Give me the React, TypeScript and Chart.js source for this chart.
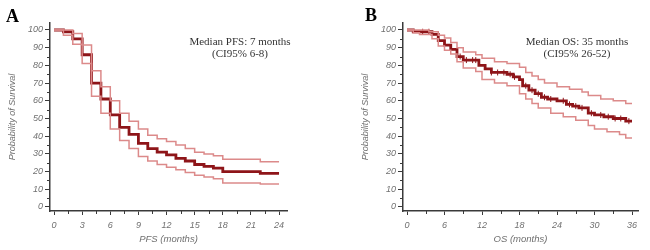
import React, { useEffect, useRef } from "react";
import { Chart, registerables } from "chart.js";

Chart.register(...registerables);

// ---------- Panel A: PFS ----------
const pfsTimes = [0, 1, 2, 3, 4, 5, 6, 7, 8, 9, 10, 11, 12, 13, 14, 15, 16, 17, 18, 22, 24];
const pfsMedian = [100, 99, 95, 86, 70, 61, 52, 45, 41, 36, 33, 31, 29.5, 27.5, 26, 24, 23, 22, 20, 19, 19];
const pfsUpper = [100, 100, 98, 91.5, 77, 68, 60, 53, 48.5, 44, 40.5, 38.5, 37, 35, 33, 31, 30, 29, 27, 25.5, 25.5];
const pfsLower = [100, 97, 92, 81, 62.5, 53, 44, 37.5, 33, 28.5, 26, 24, 22.5, 21, 19.5, 18, 17, 16, 13.5, 13, 13];
const pfsXTicks = [0, 3, 6, 9, 12, 15, 18, 21, 24];
const pfsXMinor = [1.5, 4.5, 7.5, 10.5, 13.5, 16.5, 19.5, 22.5];

// ---------- Panel B: OS ----------
const osMedTimes = [0, 1, 4, 5, 6, 7, 8, 9, 11.5, 12.5, 13.5, 16, 17, 18, 18.5, 19.5, 20.5, 21.5, 22.5, 24, 25.5, 26.5, 27.5, 29, 30, 31.5, 33, 35, 36];
const osMedian = [100, 99, 97.5, 94, 91.5, 89, 85, 83, 80, 78, 76, 75, 73.5, 72, 68.5, 66, 64, 62, 61, 60, 58, 57, 56, 53, 52, 51, 50, 48.5, 48.5];
const osUpperTimes = [0, 3.5, 5, 6, 7, 8, 9, 11, 12, 14, 16, 18, 19, 20, 21, 22, 24, 26, 28, 29, 31, 33, 35, 36];
const osUpper = [100, 99, 97, 95.5, 93, 90, 87.5, 86, 84, 82, 81, 79, 76, 74, 72, 70, 68, 66.5, 65, 63, 61, 60, 58.5, 58.5];
const osLowerTimes = [0, 1, 2, 4, 5, 6, 7, 8, 9, 11, 12, 14, 16, 18, 19, 20, 21, 23, 25, 27, 29, 30, 32, 34, 35, 36];
const osLower = [100, 98.5, 97.5, 95, 91, 88.5, 86.5, 82, 78.5, 76.5, 72, 70, 68.5, 64, 61, 58.5, 56, 53, 51, 49, 46, 44, 42.5, 41, 39, 39];
const osCensorTimes = [2.5, 3.5, 8.5, 9.5, 10.5, 11, 13.5, 14.5, 15.5, 16.5, 17.2, 19, 20, 21, 22, 23, 25, 26, 27, 28, 29.5, 31, 32.2, 33.3, 34.2, 35.5];
const osXTicks = [0, 6, 12, 18, 24, 30, 36];
const osXMinor = [3, 9, 15, 21, 27, 33];

const yTicks = [0, 10, 20, 30, 40, 50, 60, 70, 80, 90, 100];
const yMinor = [5, 15, 25, 35, 45, 55, 65, 75, 85, 95];

const MEDIAN_COLOR = "#8e1519";
const CI_COLOR = "#dc8a8a";
const AXIS_COLOR = "#3a3a3a";
const LABEL_COLOR = "#707070";
const SANS = "'Liberation Sans', Arial, sans-serif";
const SERIF = "'Liberation Serif', 'Times New Roman', serif";

const zip = (xs: number[], ys: number[]) => xs.map((x, i) => ({ x, y: ys[i] }));
const stepAt = (xs: number[], ys: number[], t: number) => {
  let v = ys[0];
  for (let i = 0; i < xs.length; i++) if (xs[i] <= t) v = ys[i];
  return v;
};

type PanelProps = {
  letter: string;
  letterX: number;
  letterY: number;
  lines: string[];
  textX: number;
  textY: number[];
  xTitle: string;
  xMin: number;
  xMax: number;
  xTicks: number[];
  xMinor: number[];
  median: { x: number; y: number }[];
  upper: { x: number; y: number }[];
  lower: { x: number; y: number }[];
  censor: { x: number; y: number }[];
  padLeft: number;
  padRight: number;
};

function Panel(p: PanelProps) {
  const ref = useRef<HTMLCanvasElement>(null);
  useEffect(() => {
    if (!ref.current) return;
    const decor = {
      id: "decor",
      afterDraw(chart: any) {
        const ctx = chart.ctx;
        const xs = chart.scales.x;
        const ys = chart.scales.y;
        ctx.save();
        ctx.strokeStyle = AXIS_COLOR;
        ctx.lineWidth = 1;
        const bottom = chart.chartArea.bottom;
        const left = chart.chartArea.left;
        p.xMinor.forEach((v) => {
          const px = Math.round(xs.getPixelForValue(v)) + 0.5;
          ctx.beginPath();
          ctx.moveTo(px, bottom);
          ctx.lineTo(px, bottom + 3);
          ctx.stroke();
        });
        yMinor.forEach((v) => {
          const py = Math.round(ys.getPixelForValue(v)) + 0.5;
          ctx.beginPath();
          ctx.moveTo(left, py);
          ctx.lineTo(left - 3, py);
          ctx.stroke();
        });
        ctx.fillStyle = "#000";
        ctx.font = `bold 18px ${SERIF}`;
        ctx.textAlign = "left";
        ctx.textBaseline = "alphabetic";
        ctx.fillText(p.letter, p.letterX, p.letterY);
        ctx.fillStyle = "#333";
        ctx.font = `11px ${SERIF}`;
        ctx.textAlign = "center";
        ctx.textBaseline = "middle";
        p.lines.forEach((t, i) => ctx.fillText(t, p.textX, p.textY[i]));
        ctx.restore();
      },
    };
    const chart = new Chart(ref.current, {
      type: "line",
      data: {
        datasets: [
          { data: p.upper, borderColor: CI_COLOR, borderWidth: 1.5, stepped: true, pointRadius: 0, fill: false },
          { data: p.lower, borderColor: CI_COLOR, borderWidth: 1.5, stepped: true, pointRadius: 0, fill: false },
          { data: p.median, borderColor: MEDIAN_COLOR, borderWidth: 2.8, stepped: true, pointRadius: 0, fill: false },
          {
            type: "scatter",
            data: p.censor,
            showLine: false,
            pointStyle: "line",
            rotation: 90,
            pointRadius: 3,
            borderColor: MEDIAN_COLOR,
            pointBorderColor: MEDIAN_COLOR,
            borderWidth: 1,
          } as any,
        ],
      },
      options: {
        animation: false,
        responsive: false,
        devicePixelRatio: 1,
        layout: { padding: { left: p.padLeft, top: 23, right: p.padRight, bottom: 0 } },
        plugins: { legend: { display: false }, tooltip: { enabled: false } },
        scales: {
          x: {
            type: "linear",
            min: p.xMin,
            max: p.xMax,
            afterBuildTicks: (s: any) => {
              s.ticks = p.xTicks.map((v) => ({ value: v }));
            },
            afterFit: (s: any) => {
              s.height = 39;
            },
            grid: { drawOnChartArea: false, drawTicks: true, tickLength: 4, tickColor: AXIS_COLOR, tickWidth: 1 },
            border: { display: true, color: AXIS_COLOR, width: 1.5 },
            ticks: {
              color: LABEL_COLOR,
              padding: 5,
              maxRotation: 0,
              autoSkip: false,
              font: { family: SANS, size: 9, style: "italic" },
              callback: (v: any) => String(v),
            },
            title: {
              display: true,
              text: p.xTitle,
              color: LABEL_COLOR,
              padding: { top: 0, bottom: 5 },
              font: { family: SANS, size: 9.5, style: "italic" },
            },
          },
          y: {
            type: "linear",
            min: -2.26,
            max: 103.95,
            afterBuildTicks: (s: any) => {
              s.ticks = yTicks.map((v) => ({ value: v }));
            },
            afterFit: (s: any) => {
              s.width = 48;
            },
            grid: { drawOnChartArea: false, drawTicks: true, tickLength: 5, tickColor: AXIS_COLOR, tickWidth: 1 },
            border: { display: true, color: AXIS_COLOR, width: 1.5 },
            ticks: {
              color: LABEL_COLOR,
              padding: 2,
              autoSkip: false,
              font: { family: SANS, size: 9, style: "italic" },
              callback: (v: any) => String(v),
            },
            title: {
              display: true,
              text: "Probability of Survival",
              color: LABEL_COLOR,
              padding: { top: 5, bottom: 0 },
              font: { family: SANS, size: 9, style: "italic" },
            },
          },
        },
      },
      plugins: [decor],
    } as any);
    return () => chart.destroy();
  }, []);
  return <canvas ref={ref} width={325} height={250} style={{ display: "block", width: 325, height: 250 }} />;
}

export default function App() {
  return (
    <div style={{ position: "absolute", left: 0, top: 0, width: 650, height: 250, display: "flex", background: "#fff" }}>
      <Panel
        letter="A"
        letterX={6}
        letterY={22}
        lines={["Median PFS: 7 months", "(CI95% 6-8)"]}
        textX={240}
        textY={[42, 54]}
        xTitle="PFS (months)"
        xMin={-0.43}
        xMax={24.85}
        xTicks={pfsXTicks}
        xMinor={pfsXMinor}
        median={zip(pfsTimes, pfsMedian)}
        upper={zip(pfsTimes, pfsUpper)}
        lower={zip(pfsTimes, pfsLower)}
        censor={[]}
        padLeft={2}
        padRight={38}
      />
      <Panel
        letter="B"
        letterX={40}
        letterY={21}
        lines={["Median OS: 35 months", "(CI95% 26-52)"]}
        textX={252}
        textY={[42, 54]}
        xTitle="OS (months)"
        xMin={-0.64}
        xMax={36.96}
        xTicks={osXTicks}
        xMinor={osXMinor}
        median={zip(osMedTimes, osMedian)}
        upper={zip(osUpperTimes, osUpper)}
        lower={zip(osLowerTimes, osLower)}
        censor={osCensorTimes.map((t) => ({ x: t, y: stepAt(osMedTimes, osMedian, t) }))}
        padLeft={30}
        padRight={12}
      />
    </div>
  );
}
